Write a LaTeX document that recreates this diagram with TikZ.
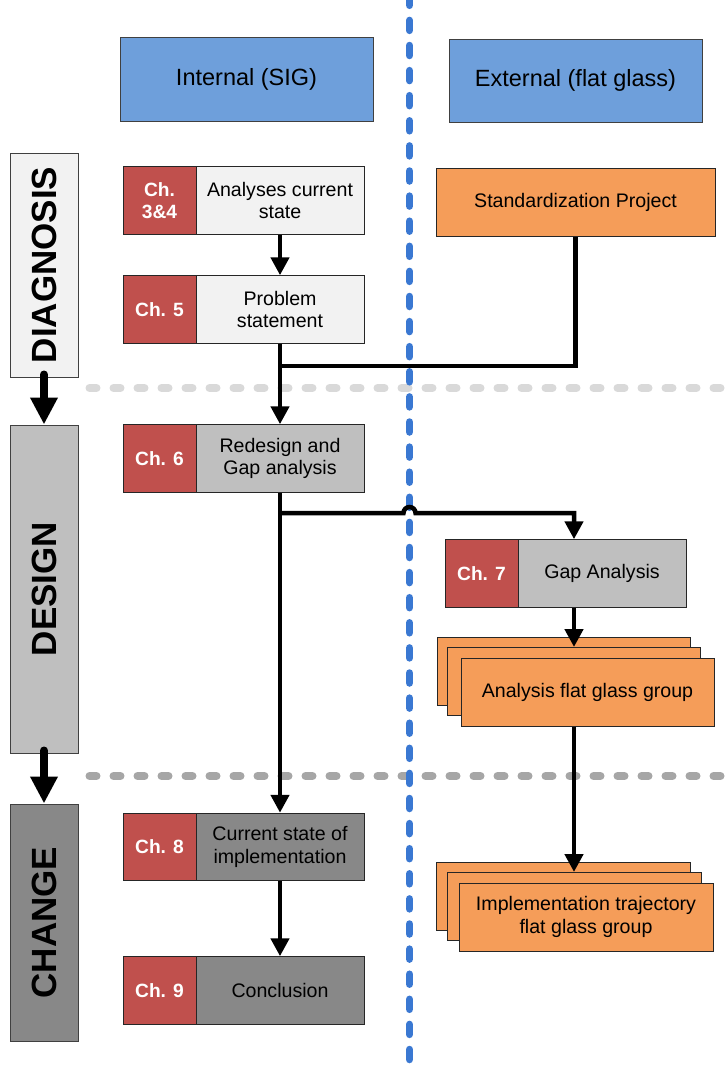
\documentclass[tikz,border=0pt]{standalone}
\usepackage{fontspec}
\setmainfont{Liberation Sans}
\usetikzlibrary{arrows.meta,calc}

\definecolor{headblue}{HTML}{6E9FDB}
\definecolor{lightfill}{HTML}{F2F2F2}
\definecolor{designfill}{HTML}{BFBFBF}
\definecolor{changefill}{HTML}{888888}
\definecolor{orangefill}{HTML}{F59D59}
\definecolor{chred}{HTML}{C0504D}
\definecolor{seplight}{HTML}{D9D9D9}
\definecolor{sepdark}{HTML}{A6A6A6}
\definecolor{divblue}{HTML}{3A78D2}

\tikzset{
  box/.style={draw=black!85, line width=1pt, inner sep=2pt, align=center,
    font=\fontsize{19.6}{22.5}\selectfont},
  chap/.style={box, fill=chred, text=white,
    font=\bfseries\fontsize{19.2}{22.5}\selectfont,
    minimum width=73pt, minimum height=67.5pt},
  task/.style={box, minimum width=168pt, minimum height=67.5pt},
  stack/.style={box, fill=orangefill, minimum width=253pt, minimum height=68pt},
  phase/.style={draw=black!75, line width=1pt, inner sep=0pt, minimum width=68pt,
    font=\bfseries\fontsize{35}{40}\selectfont},
  head/.style={draw=black!75, line width=1pt, fill=headblue, minimum width=253pt,
    font=\fontsize{23.5}{27}\selectfont},
  conn/.style={line width=4.5pt, -{Triangle[width=18pt,length=18pt]}},
  plainconn/.style={line width=4.5pt},
  phasearrow/.style={line width=8pt, line cap=round,
    -{Triangle[width=26pt,length=27pt]}},
  separator/.style={line width=8pt, line cap=round, dash pattern=on 7pt off 17pt},
}

\begin{document}
\begin{tikzpicture}[x=1pt,y=-1pt]
\useasboundingbox (0,0) rectangle (727,1068);
\clip (0,0) rectangle (727,1068);

% phase separators
\draw[separator, seplight] (89.5,388) -- (740,388);
\draw[separator, sepdark] (89.5,776) -- (740,776);

% column headers
\node[head, minimum height=84pt] (hint) at (246.5,79) {Internal (SIG)};
\node[head, minimum height=83pt] (hext) at (575.5,80.5) {External (flat glass)};

% phases
\node[phase, fill=lightfill, minimum height=224pt] (diag) at (44,265) {\rotatebox{90}{DIAGNOSIS}};
\node[phase, fill=designfill, minimum height=328pt] (design) at (44,589) {\rotatebox{90}{DESIGN}};
\node[phase, fill=changefill, minimum height=237pt] (change) at (44,922.5) {\rotatebox{90}{CHANGE}};

% internal chapters
\node[chap] (c34) at (159.5,200.5) {Ch.\\3\&4};
\node[task, fill=lightfill] (t34) at (280,200.5) {Analyses current\\state};
\node[chap] (c5) at (159.5,309.5) {Ch. 5};
\node[task, fill=lightfill] (t5) at (280,309.5) {Problem\\statement};
\node[chap] (c6) at (159.5,458.5) {Ch. 6};
\node[task, fill=designfill] (t6) at (280,458.5) {Redesign and\\Gap analysis};
\node[chap] (c8) at (159.5,847) {Ch. 8};
\node[task, fill=changefill] (t8) at (280,847) {Current state of\\implementation};
\node[chap] (c9) at (159.5,990.5) {Ch. 9};
\node[task, fill=changefill] (t9) at (280,990.5) {Conclusion};

% external side
\node[box, fill=orangefill, minimum width=279pt, minimum height=68pt] (std) at (575.5,202) {Standardization Project};
\node[chap] (c7) at (481.5,573.5) {Ch. 7};
\node[task, fill=designfill] (t7) at (602,573.5) {Gap Analysis};

\node[stack] (afgA) at (563.5,671) {};
\node[stack] (afgB) at (574,681.5) {};
\node[stack] (afg) at (587.5,692) {Analysis flat glass group};

\node[stack, minimum width=254pt] (implA) at (563,896.5) {};
\node[stack, minimum width=254pt] (implB) at (574,906.5) {};
\node[stack, minimum width=254pt] (impl) at (586,917) {Implementation trajectory\\flat glass group};

% connectors
\coordinate (j) at (280,366);
\coordinate (br) at (280,513);
\draw[conn] (t34.south) -- (t5.north);
\draw[conn] (t5.south) -- (t6.north);
\draw[plainconn] (std.south) |- (j);
\draw[conn] (t6.south) -- (t8.north);
\draw[conn] (t8.south) -- (t9.north);
\draw[conn] (t7.south -| afgB.north) -- (afgB.north);
\draw[conn] (afgB.south |- afg.south) -- (implB.north);

% phase arrows
\draw[phasearrow] ([yshift=3pt]diag.south) -- (design.north);
\draw[phasearrow] ([yshift=3pt]design.south) -- (change.north);

% internal / external divider
\draw[line width=7.5pt, divblue, line cap=round, dash pattern=on 10pt off 15.1pt]
  (409.5,-4.7) -- (409.5,1080);

% branch to the external gap analysis, hopping over the divider
\draw[conn] (br) -- (403.5,513) arc[start angle=180, end angle=0, radius=6pt]
  -- (afgB.north |- br) -- (afgB.north |- t7.north);
\end{tikzpicture}
\end{document}
